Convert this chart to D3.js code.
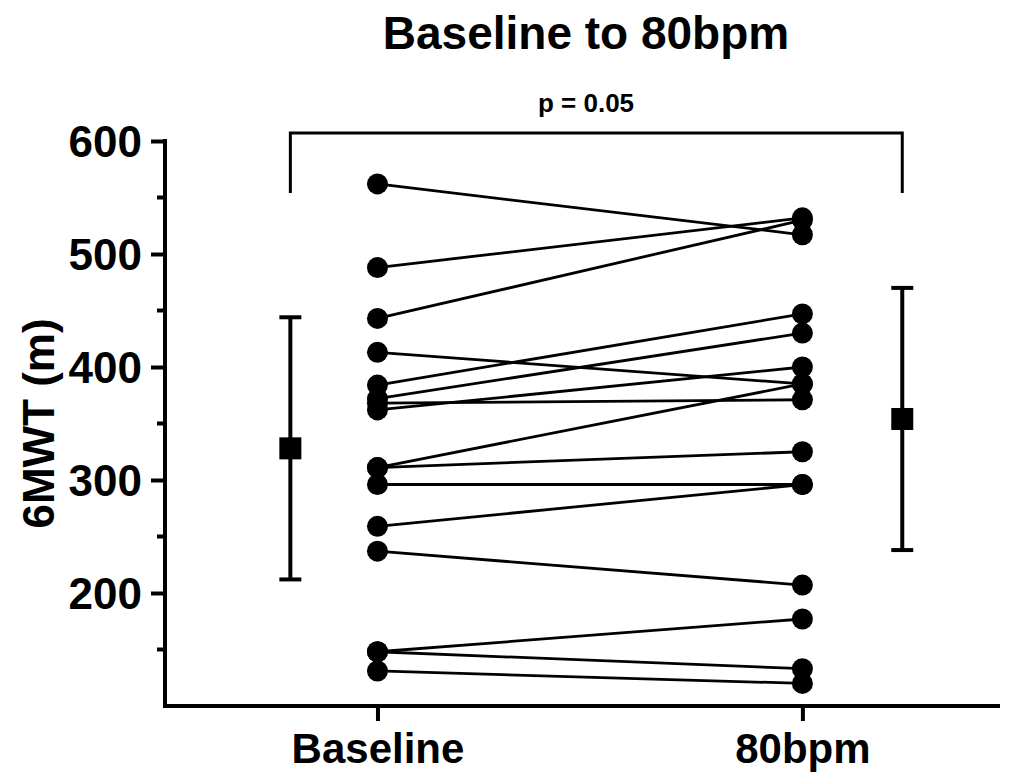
<!DOCTYPE html>
<html>
<head>
<meta charset="utf-8">
<script src="https://cdn.jsdelivr.net/npm/d3@7"></script>
<style>
  body { margin: 0; background: #fff; }
  svg text { font-family: "Liberation Sans", Arial, sans-serif; font-weight: bold; fill: #000; }
</style>
</head>
<body>
<svg id="chart" width="1013" height="779"></svg>
<script>
// data
const groups = ["Baseline", "80bpm"];
const baselineValues = [562, 488, 443, 413, 384, 372, 368, 362, 311, 311, 296, 259, 237, 148, 148, 131];
const bpm80Values    = [517, 532, 530, 385, 447, 430, 371, 400, 385, 325, 296, 296, 207, 177, 133, 120];
const meanValues = [328, 354];
const sdValues = [116, 116];
const yTicks = [200, 300, 400, 500, 600];
const yMinorTicks = [150, 250, 350, 450, 550];
const pLabel = "p = 0.05";

const svg = d3.select("#chart");

const x = d3.scaleLinear().domain([-0.5, 1.465]).range([165, 1000]);
const y = d3.scaleLinear().domain([100, 600]).range([706, 141]);

// where the mean/sd markers sit, relative to the group columns
const summaryPos = [-0.205, 1.235];

// title
svg.append("text")
  .attr("x", 586).attr("y", 49)
  .attr("text-anchor", "middle")
  .attr("font-size", 46)
  .text("Baseline to 80bpm");

// paired lines
const pairs = baselineValues.map((b, i) => ({ b: b, a: bpm80Values[i] }));
svg.selectAll(".pair")
  .data(pairs)
  .enter()
  .append("line")
  .attr("class", "pair")
  .attr("x1", x(0)).attr("x2", x(1))
  .attr("y1", (d) => y(d.b))
  .attr("y2", (d) => y(d.a))
  .attr("stroke", "#000")
  .attr("stroke-width", 2.8);

// points
[baselineValues, bpm80Values].forEach((vals, gi) => {
  svg.selectAll(".dot" + gi)
    .data(vals)
    .enter()
    .append("circle")
    .attr("class", "dot" + gi)
    .attr("cx", x(gi))
    .attr("cy", (d) => y(d))
    .attr("r", 10.5)
    .attr("fill", "#000");
});

// mean +/- sd
meanValues.forEach((m, i) => {
  const cx = x(summaryPos[i]);
  const g = svg.append("g");
  g.append("line")
    .attr("x1", cx).attr("x2", cx)
    .attr("y1", y(m + sdValues[i])).attr("y2", y(m - sdValues[i]))
    .attr("stroke", "#000").attr("stroke-width", 4);
  [m + sdValues[i], m - sdValues[i]].forEach((v) => {
    g.append("line")
      .attr("x1", cx - 11).attr("x2", cx + 11)
      .attr("y1", y(v)).attr("y2", y(v))
      .attr("stroke", "#000").attr("stroke-width", 4);
  });
  g.append("rect")
    .attr("x", cx - 11).attr("y", y(m) - 11)
    .attr("width", 22).attr("height", 22)
    .attr("fill", "#000");
});

// significance bracket
const bracketTop = 133, bracketLeg = 193;
svg.append("path")
  .attr("d", `M${x(summaryPos[0])},${bracketLeg}V${bracketTop}H${x(summaryPos[1])}V${bracketLeg}`)
  .attr("fill", "none")
  .attr("stroke", "#000")
  .attr("stroke-width", 3);
svg.append("text")
  .attr("x", 586).attr("y", 112)
  .attr("text-anchor", "middle")
  .attr("font-size", 26)
  .text(pLabel);

// y axis
const yAxis = svg.append("g")
  .attr("transform", `translate(${x(-0.5)},0)`)
  .call(d3.axisLeft(y).tickValues(yTicks).tickSize(14).tickPadding(9).tickSizeOuter(0));
yAxis.select(".domain").attr("stroke-width", 4).attr("d", `M0,${y(600) - 2}V${y(100) + 2}`);
yAxis.selectAll(".tick line").attr("stroke-width", 4);
yAxis.selectAll(".tick text").attr("font-size", 44).attr("dy", "0.36em")
  .style("font-family", '"Liberation Sans", Arial, sans-serif').style("font-weight", "bold");
svg.append("g")
  .attr("transform", `translate(${x(-0.5)},0)`)
  .selectAll("line")
  .data(yMinorTicks)
  .enter()
  .append("line")
  .attr("x1", -8).attr("x2", 0)
  .attr("y1", (d) => y(d)).attr("y2", (d) => y(d))
  .attr("stroke", "#000").attr("stroke-width", 4);

// x axis
const xAxis = svg.append("g")
  .attr("transform", `translate(0,${y(100)})`)
  .call(d3.axisBottom(x).tickValues([0, 1]).tickFormat((d) => groups[d]).tickSize(15).tickPadding(12).tickSizeOuter(0));
xAxis.select(".domain").attr("stroke-width", 4).attr("d", `M${x(-0.5) - 2},0H${x(1.465)}`);
xAxis.selectAll(".tick line").attr("stroke-width", 4);
xAxis.selectAll(".tick text").attr("font-size", 42)
  .style("font-family", '"Liberation Sans", Arial, sans-serif').style("font-weight", "bold");

// y label
svg.append("text")
  .attr("transform", `translate(54,${(y(100) + y(600)) / 2}) rotate(-90)`)
  .attr("text-anchor", "middle")
  .attr("font-size", 44)
  .text("6MWT (m)");
</script>
</body>
</html>
